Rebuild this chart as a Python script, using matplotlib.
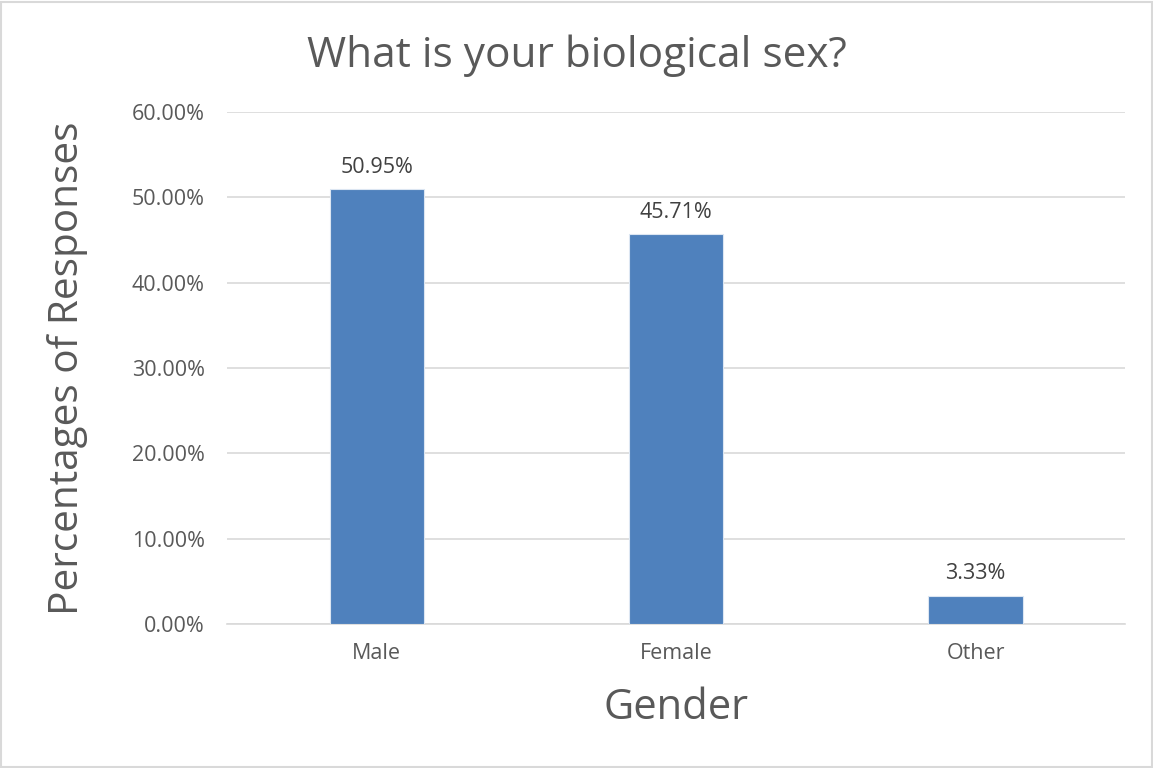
import matplotlib.pyplot as plt
from matplotlib.ticker import FuncFormatter
import matplotlib.patches as mpatches

categories = ['Male', 'Female', 'Other']
percentages = [50.95, 45.71, 3.33]
yticks = [0, 10, 20, 30, 40, 50, 60]

plt.rcParams['font.family'] = ['Open Sans', 'DejaVu Sans']
text_col = '#595959'

fig = plt.figure(figsize=(11.53, 7.68), dpi=100)
ax = fig.add_axes([0.197, 0.1875, 0.779, 0.6667])

x = range(len(categories))
bars = ax.bar(x, percentages, width=0.315, color='#4F81BD', edgecolor='#dce6f2', linewidth=0.8, zorder=3)

for b, v in zip(bars, percentages):
    ax.annotate('%.2f%%' % v, (b.get_x() + b.get_width() / 2, v), xytext=(0, 8),
                textcoords='offset points', ha='center', va='bottom', fontsize=15.5, color='#404040')

ax.set_xlim(-0.5, 2.5)
ax.set_ylim(0, 60)
ax.set_yticks(yticks)
ax.yaxis.set_major_formatter(FuncFormatter(lambda v, p: '%.2f%%' % v))
ax.set_xticks(list(x))
ax.set_xticklabels(categories)
ax.tick_params(axis='both', length=0, labelsize=15.5, labelcolor=text_col)
ax.tick_params(axis='x', pad=14)
ax.tick_params(axis='y', pad=16)
ax.grid(axis='y', color='#d9d9d9', linewidth=1.2, zorder=0)
for s in ['top', 'right', 'left']:
    ax.spines[s].set_visible(False)
ax.spines['bottom'].set_color('#d9d9d9')
ax.spines['bottom'].set_linewidth(1.2)

ax.set_xlabel('Gender', fontsize=30, color=text_col, labelpad=16)
ax.set_ylabel('Percentages of Responses', fontsize=29.2, color=text_col, va='center')
ax.yaxis.set_label_coords(-0.178, 0.5)
fig.text(0.5, 0.928, 'What is your biological sex?', ha='center', va='center', fontsize=30.5, color=text_col)

fig.patches.append(mpatches.Rectangle((0.001, 0.001), 0.998, 0.997, transform=fig.transFigure,
                                      fill=False, edgecolor='#d9d9d9', linewidth=1.5))

fig.savefig('out.png', dpi=100)
